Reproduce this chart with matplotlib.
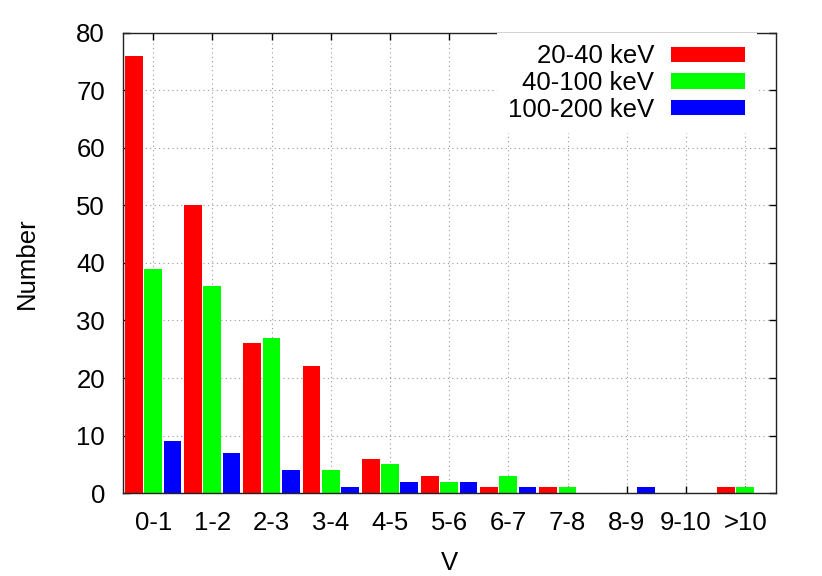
import matplotlib
matplotlib.use("Agg")
import matplotlib.pyplot as plt
import numpy as np

plt.rcParams['font.family'] = ['Liberation Sans', 'DejaVu Sans']

# Data
categories = ['0-1', '1-2', '2-3', '3-4', '4-5', '5-6', '6-7', '7-8', '8-9', '9-10', '>10']
low_kev = [76, 50, 26, 22, 6, 3, 1, 1, 0, 0, 1]
mid_kev = [39, 36, 27, 4, 5, 2, 3, 1, 0, 0, 1]
high_kev = [9, 7, 4, 1, 2, 2, 1, 0, 1, 0, 0]
series_labels = ['20-40 keV', '40-100 keV', '100-200 keV']
colors = ['#ff0000', '#00ff00', '#0000ff']

FS = 18.5

fig = plt.figure(figsize=(8.22, 5.76), dpi=100)
ax = fig.add_axes([0.1496, 0.144, 0.7944, 0.799])

x = np.arange(len(categories))
width = 0.3
step = 0.325
for i, (vals, lab, col) in enumerate(zip([low_kev, mid_kev, high_kev], series_labels, colors)):
    ax.bar(x + (i - 1) * step, vals, width, color=col, label=lab, zorder=2)

ax.set_xlim(-0.51, 10.52)
ax.set_ylim(0, 80)
ax.set_xticks(x)
ax.set_xticklabels(categories)
ax.set_yticks(np.arange(0, 81, 10))
ax.tick_params(direction='in', length=5, width=1, top=True, right=True,
               labelsize=FS, pad=13)
ax.grid(True, linestyle=(0, (1, 3)), color='#999999', linewidth=0.8)
ax.set_axisbelow(True)
for s in ax.spines.values():
    s.set_linewidth(1.0)
    s.set_color('#222222')

ax.set_xlabel('V', fontsize=FS)
ax.set_ylabel('Number', fontsize=FS)
ax.xaxis.set_label_coords(0.5, -0.126)
ax.yaxis.set_label_coords(-0.129, 0.5)

leg = ax.legend(loc='upper right', bbox_to_anchor=(0.971, 1.0), markerfirst=False,
                fontsize=FS, handlelength=2.9, handleheight=0.55, labelspacing=0.1,
                handletextpad=0.65, borderaxespad=0, borderpad=0.45,
                fancybox=False, framealpha=1.0)
leg.get_frame().set_edgecolor('white')
leg.get_frame().set_linewidth(0)
leg.set_zorder(5)

fig.savefig('out.png', dpi=100)
